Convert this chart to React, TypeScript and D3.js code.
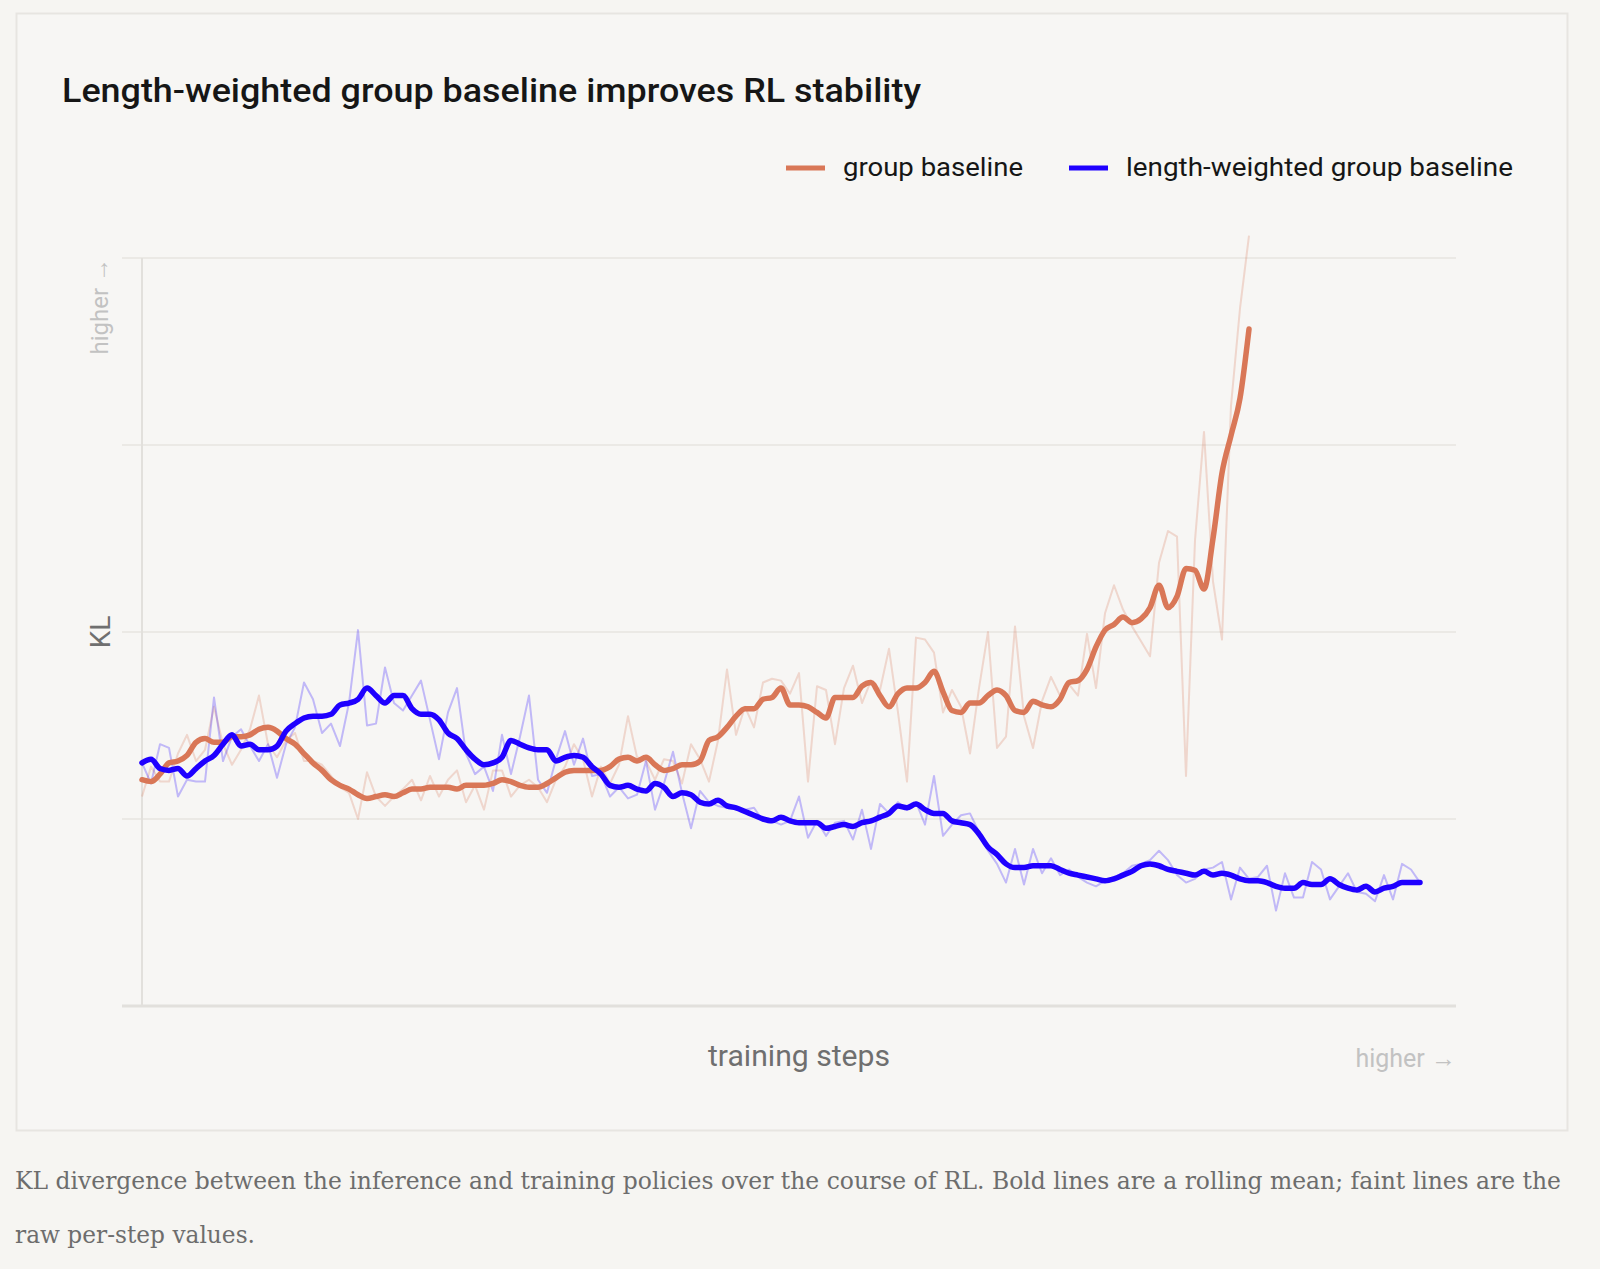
import * as d3 from 'd3';
import { useEffect, useRef } from 'react';

const width = 1600;
const height = 1269;

const title = 'Length-weighted group baseline improves RL stability';
const captionLines = [
  'KL divergence between the inference and training policies over the course of RL. Bold lines are a rolling mean; faint lines are the',
  'raw per-step values.',
];

const seriesNames = ['group baseline', 'length-weighted group baseline'];
const seriesColors = ['#d97757', '#1f00ff'];

// raw per-step KL (faint) and rolling mean (bold)
const groupRaw = [
  1.12, 1.28, 1.2, 1.2, 1.35, 1.45, 1.31, 1.37, 1.6, 1.4,
  1.29, 1.37, 1.48, 1.66, 1.4, 1.33, 1.42, 1.46, 1.31, 1.31,
  1.29, 1.23, 1.17, 1.14, 1.0, 1.25, 1.12, 1.07, 1.12, 1.16,
  1.21, 1.1, 1.23, 1.12, 1.21, 1.26, 1.09, 1.18, 1.05, 1.26,
  1.26, 1.12, 1.18, 1.21, 1.17, 1.09, 1.21, 1.28, 1.4, 1.32,
  1.12, 1.28, 1.19, 1.29, 1.55, 1.33, 1.31, 1.21, 1.32, 1.31,
  1.19, 1.4, 1.32, 1.2, 1.42, 1.8, 1.45, 1.6, 1.49, 1.73,
  1.75, 1.74, 1.67, 1.78, 1.2, 1.71, 1.69, 1.4, 1.7, 1.82,
  1.62, 1.74, 1.69, 1.91, 1.57, 1.2, 1.97, 1.96, 1.89, 1.57,
  1.69, 1.6, 1.35, 1.7, 2.0, 1.38, 1.44, 2.03, 1.55, 1.38,
  1.63, 1.76, 1.66, 1.72, 1.66, 1.99, 1.7, 2.1, 2.25, 2.12,
  2.03, 1.95, 1.87, 2.37, 2.54, 2.51, 1.23, 2.49, 3.07, 2.27,
  1.96, 3.21, 3.73, 4.12,
];

const groupMean = [
  1.21, 1.2, 1.24, 1.3, 1.31, 1.34, 1.41, 1.43, 1.41, 1.41,
  1.44, 1.44, 1.45, 1.48, 1.49, 1.47, 1.43, 1.4, 1.35, 1.3,
  1.26, 1.21, 1.18, 1.16, 1.13, 1.11, 1.12, 1.13, 1.12, 1.14,
  1.16, 1.16, 1.17, 1.17, 1.17, 1.16, 1.18, 1.18, 1.18, 1.19,
  1.21, 1.2, 1.18, 1.17, 1.17, 1.19, 1.22, 1.25, 1.26, 1.26,
  1.26, 1.26, 1.28, 1.32, 1.33, 1.31, 1.33, 1.29, 1.26, 1.27,
  1.29, 1.29, 1.31, 1.42, 1.44, 1.49, 1.55, 1.59, 1.59, 1.64,
  1.65, 1.7, 1.61, 1.61, 1.6, 1.57, 1.54, 1.65, 1.65, 1.65,
  1.71, 1.73, 1.66, 1.6, 1.67, 1.7, 1.7, 1.73, 1.79, 1.68,
  1.58, 1.57, 1.62, 1.62, 1.66, 1.69, 1.66, 1.58, 1.57, 1.63,
  1.61, 1.6, 1.64, 1.73, 1.74, 1.8, 1.92, 2.01, 2.04, 2.08,
  2.05, 2.07, 2.13, 2.25, 2.13, 2.19, 2.34, 2.33, 2.23, 2.5,
  2.85, 3.05, 3.25, 3.62,
];

const weightedRaw = [
  1.3, 1.19, 1.4, 1.38, 1.12, 1.21, 1.2, 1.2, 1.65, 1.31,
  1.44, 1.48, 1.39, 1.31, 1.4, 1.22, 1.4, 1.49, 1.73, 1.64,
  1.46, 1.51, 1.39, 1.62, 2.01, 1.5, 1.51, 1.81, 1.62, 1.58,
  1.66, 1.74, 1.53, 1.32, 1.57, 1.7, 1.35, 1.24, 1.28, 1.15,
  1.45, 1.24, 1.44, 1.66, 1.21, 1.14, 1.32, 1.47, 1.29, 1.43,
  1.23, 1.24, 1.12, 1.17, 1.11, 1.13, 1.31, 1.05, 1.19, 1.36,
  1.14, 0.95, 1.15, 1.09, 1.07, 1.06, 1.06, 1.05, 1.06, 0.99,
  0.99, 0.97, 0.99, 1.12, 0.9, 0.99, 0.91, 0.98, 0.99, 0.89,
  1.05, 0.84, 1.08, 1.03, 1.09, 1.05, 1.09, 0.97, 1.23, 0.91,
  0.97, 1.02, 1.03, 0.93, 0.83, 0.76, 0.66, 0.84, 0.65, 0.84,
  0.71, 0.79, 0.7, 0.73, 0.69, 0.66, 0.64, 0.67, 0.69, 0.71,
  0.75, 0.76, 0.78, 0.83, 0.78, 0.7, 0.66, 0.68, 0.73, 0.74,
  0.77, 0.57, 0.74, 0.68, 0.69, 0.75, 0.51, 0.71, 0.58, 0.58,
  0.77, 0.73, 0.57, 0.64, 0.71, 0.61, 0.6, 0.56, 0.7, 0.57,
  0.76, 0.73, 0.66,
];

const weightedMean = [
  1.3, 1.32, 1.27, 1.26, 1.27, 1.23, 1.27, 1.31, 1.34, 1.4,
  1.45, 1.39, 1.4, 1.37, 1.37, 1.39, 1.47, 1.51, 1.54, 1.55,
  1.55, 1.56, 1.61, 1.62, 1.64, 1.7, 1.66, 1.62, 1.66, 1.66,
  1.59, 1.56, 1.56, 1.53, 1.46, 1.43, 1.37, 1.32, 1.29, 1.3,
  1.33, 1.42, 1.4, 1.38, 1.37, 1.37, 1.31, 1.33, 1.34, 1.33,
  1.28, 1.24, 1.18, 1.17, 1.18, 1.16, 1.15, 1.19, 1.17, 1.12,
  1.14, 1.13, 1.09, 1.08, 1.1, 1.07, 1.06, 1.04, 1.02, 1.0,
  0.99, 1.01, 0.99, 0.98, 0.98, 0.98, 0.95, 0.96, 0.97, 0.96,
  0.98, 0.99, 1.01, 1.03, 1.07, 1.06, 1.08, 1.05, 1.03, 1.03,
  0.99, 0.98, 0.97, 0.92, 0.85, 0.81, 0.76, 0.74, 0.74, 0.75,
  0.75, 0.75, 0.73, 0.71, 0.7, 0.69, 0.68, 0.67, 0.68, 0.7,
  0.72, 0.75, 0.76, 0.75, 0.73, 0.72, 0.71, 0.7, 0.72, 0.7,
  0.71, 0.7, 0.68, 0.67, 0.67, 0.66, 0.64, 0.63, 0.63, 0.66,
  0.65, 0.65, 0.68, 0.65, 0.63, 0.62, 0.64, 0.61, 0.63, 0.64,
  0.66, 0.66, 0.66,
];

const gridValues = [0, 1, 2, 3, 4];
const stepDomain = [0, 146];

export default function App() {
  const svgRef = useRef<SVGSVGElement | null>(null);

  useEffect(() => {
    if (!svgRef.current) return;
    const svg = d3.select(svgRef.current);
    svg.selectAll('*').remove();

    const plot = { left: 142, right: 1456, top: 258, bottom: 1006 };
    const sans = 'Roboto, "Noto Sans", sans-serif';

    const x = d3.scaleLinear().domain(stepDomain).range([plot.left, plot.right]);
    const y = d3.scaleLinear().domain([0, 4]).range([plot.bottom, plot.top]);

    svg.append('rect').attr('width', width).attr('height', height).attr('fill', '#f6f5f2');
    svg.append('rect')
      .attr('x', 16.5).attr('y', 13.5).attr('width', 1551).attr('height', 1117)
      .attr('fill', '#f7f6f4').attr('stroke', '#e7e5e1').attr('stroke-width', 2);

    svg.append('text')
      .attr('x', 62).attr('y', 102)
      .attr('font-family', sans).attr('font-weight', 500).attr('font-size', 34)
      .attr('fill', '#161616')
      .attr('textLength', 859).attr('lengthAdjust', 'spacingAndGlyphs')
      .text(title);

    // legend
    const legendX = [786, 1069];
    const legendW = [180, 387];
    const legend = svg.append('g');
    seriesNames.forEach((name, i) => {
      legend.append('line')
        .attr('x1', legendX[i]).attr('x2', legendX[i] + 39)
        .attr('y1', 168).attr('y2', 168)
        .attr('stroke', seriesColors[i]).attr('stroke-width', 5);
      legend.append('text')
        .attr('x', legendX[i] + 57).attr('y', 176)
        .attr('font-family', sans).attr('font-size', 26).attr('fill', '#161616')
        .attr('textLength', legendW[i]).attr('lengthAdjust', 'spacingAndGlyphs')
        .text(name);
    });

    // grid
    svg.append('g')
      .selectAll('line')
      .data(gridValues)
      .enter()
      .append('line')
      .attr('x1', plot.left - 20).attr('x2', plot.right)
      .attr('y1', (d: number) => y(d)).attr('y2', (d: number) => y(d))
      .attr('stroke', (d: number) => (d === 0 ? '#e2e0dc' : '#ebe9e5'))
      .attr('stroke-width', (d: number) => (d === 0 ? 3 : 2));

    svg.append('line')
      .attr('x1', plot.left).attr('x2', plot.left)
      .attr('y1', plot.top).attr('y2', plot.bottom)
      .attr('stroke', '#e2e0dc').attr('stroke-width', 2);

    // axis labels
    svg.append('text')
      .attr('transform', `translate(110,${y(2)}) rotate(-90)`)
      .attr('text-anchor', 'middle')
      .attr('font-family', sans).attr('font-size', 28).attr('fill', '#6f6f6f')
      .text('KL');
    svg.append('text')
      .attr('transform', `translate(108,${plot.top}) rotate(-90)`)
      .attr('text-anchor', 'end')
      .attr('font-family', sans).attr('font-size', 24).attr('fill', '#c2c2c2')
      .text('higher →');
    svg.append('text')
      .attr('x', (plot.left + plot.right) / 2).attr('y', 1066)
      .attr('text-anchor', 'middle')
      .attr('font-family', sans).attr('font-size', 29).attr('fill', '#6f6f6f')
      .attr('textLength', 182).attr('lengthAdjust', 'spacingAndGlyphs')
      .text('training steps');
    svg.append('text')
      .attr('x', plot.right).attr('y', 1067)
      .attr('text-anchor', 'end')
      .attr('font-family', sans).attr('font-size', 25).attr('fill', '#c2c2c2')
      .text('higher →');

    const rawLine = d3.line<number>()
      .x((_d: number, i: number) => x(i))
      .y((d: number) => y(d));
    const meanLine = d3.line<number>()
      .x((_d: number, i: number) => x(i))
      .y((d: number) => y(d))
      .curve(d3.curveMonotoneX);

    const raws = [groupRaw, weightedRaw];
    const means = [groupMean, weightedMean];

    raws.forEach((values, i) => {
      svg.append('path')
        .attr('d', rawLine(values))
        .attr('fill', 'none')
        .attr('stroke', seriesColors[i])
        .attr('stroke-opacity', 0.25)
        .attr('stroke-width', 2)
        .attr('stroke-linejoin', 'round');
    });
    means.forEach((values, i) => {
      svg.append('path')
        .attr('d', meanLine(values))
        .attr('fill', 'none')
        .attr('stroke', seriesColors[i])
        .attr('stroke-width', 5.5)
        .attr('stroke-linejoin', 'round')
        .attr('stroke-linecap', 'round');
    });

    // caption
    const captionW = [1546, 240];
    captionLines.forEach((line, i) => {
      svg.append('text')
        .attr('x', 15).attr('y', 1189 + i * 54)
        .attr('font-family', '"DejaVu Serif", serif').attr('font-size', 23.5)
        .attr('fill', '#6d6d6d')
        .attr('textLength', captionW[i]).attr('lengthAdjust', 'spacingAndGlyphs')
        .text(line);
    });
  }, []);

  return (
    <div style={{ position: 'absolute', left: 0, top: 0, width, height }}>
      <svg ref={svgRef} width={width} height={height} style={{ display: 'block' }} />
    </div>
  );
}
